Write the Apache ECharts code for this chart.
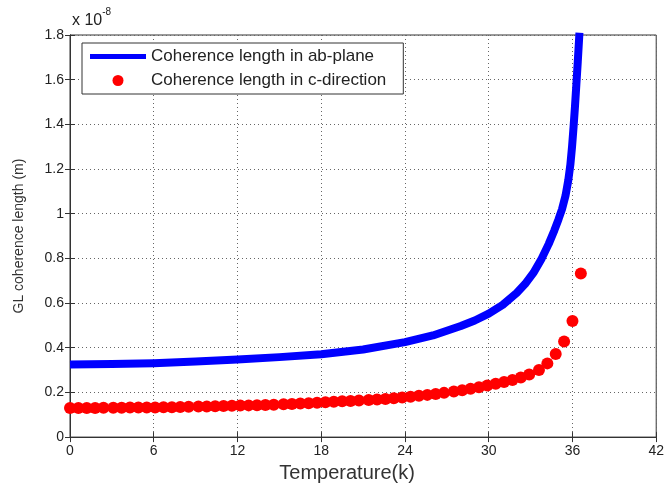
<!DOCTYPE html>
<html>
<head>
<meta charset="utf-8">
<script src="https://cdn.jsdelivr.net/npm/echarts@6/dist/echarts.min.js"></script>
<style>
  html, body { margin: 0; padding: 0; background: #fff; }
  #chart { width: 667px; height: 488px; }
</style>
</head>
<body>
<div id="chart"></div>
<script>
// coherence length in ab-plane (x 1e-8 m) vs temperature (K)
var abTemp = [0, 3, 6, 9, 12, 15, 18, 21, 24, 26, 28, 29, 30, 31, 32, 32.6, 33.2, 33.8, 34.3, 34.7, 35.0, 35.25, 35.5, 35.7, 35.85, 35.97, 36.08, 36.18, 36.28, 36.38, 36.5];
var abLength = [0.325, 0.327, 0.331, 0.338, 0.347, 0.358, 0.371, 0.392, 0.425, 0.455, 0.497, 0.522, 0.553, 0.592, 0.645, 0.685, 0.735, 0.8, 0.865, 0.925, 0.975, 1.02, 1.08, 1.15, 1.22, 1.3, 1.39, 1.48, 1.58, 1.68, 1.81];

// coherence length in c-direction
var cTemp = [0, 0.6, 1.2, 1.8, 2.4, 3.1, 3.7, 4.3, 4.9, 5.5, 6.1, 6.7, 7.3, 7.9, 8.5, 9.2, 9.8, 10.4, 11.0, 11.6,
  12.2, 12.8, 13.4, 14.0, 14.6, 15.3, 15.9, 16.5, 17.1, 17.7, 18.3, 18.9, 19.5, 20.1, 20.7, 21.4, 22.0, 22.6, 23.2, 23.8,
  24.4, 25.0, 25.6, 26.2, 26.8, 27.5, 28.1, 28.7, 29.3, 29.9, 30.5, 31.1, 31.7, 32.3, 32.9, 33.6, 34.2, 34.8, 35.4, 36.0, 36.6];
var cLength = [0.130, 0.130, 0.130, 0.130, 0.131, 0.131, 0.131, 0.132, 0.132, 0.133, 0.133, 0.134, 0.134, 0.135, 0.136, 0.137, 0.137, 0.138, 0.139, 0.140,
  0.141, 0.142, 0.143, 0.144, 0.145, 0.147, 0.148, 0.150, 0.152, 0.154, 0.156, 0.158, 0.160, 0.162, 0.164, 0.166, 0.168, 0.171, 0.174, 0.177,
  0.181, 0.185, 0.189, 0.193, 0.198, 0.204, 0.210, 0.216, 0.223, 0.231, 0.239, 0.247, 0.256, 0.267, 0.280, 0.300, 0.330, 0.372, 0.428, 0.520, 0.732];

var xTicks = { min: 0, max: 42, interval: 6 };
var yTicks = { min: 0, max: 1.8, interval: 0.2 };

var abName = 'Coherence length in ab-plane';
var cName = 'Coherence length in c-direction';

function pairs(xs, ys) {
	var out = [];
	for (var i = 0; i < xs.length; i++) out.push([xs[i], ys[i]]);
	return out;
}

var font = '"Liberation Sans", Arial, sans-serif';
var gridLine = { show: true, lineStyle: { color: '#666', type: [1, 3], width: 1 } };

var chart = echarts.init(document.getElementById('chart'));
chart.setOption({
	animation: false,
	textStyle: { fontFamily: font },
	grid: { left: 70, right: 6, top: 35, bottom: 50, show: true, borderColor: '#333', borderWidth: 1 },
	graphic: [{
		type: 'text',
		left: 72,
		top: 7,
		style: {
			text: '{b|x 10}{s|-8}',
			rich: {
				b: { fontSize: 16, fontFamily: font, fill: '#222', verticalAlign: 'bottom', padding: [6, 0, 0, 0] },
				s: { fontSize: 10, fontFamily: font, fill: '#222', verticalAlign: 'top' }
			}
		}
	}],
	legend: {
		left: 82,
		top: 43,
		orient: 'vertical',
		backgroundColor: '#fff',
		borderColor: '#333',
		borderWidth: 1,
		borderRadius: 0,
		padding: [5, 17, 5, 8],
		itemGap: 7,
		itemWidth: 56,
		itemHeight: 11,
		symbolKeepAspect: true,
		textStyle: { fontSize: 17, color: '#222', fontFamily: font },
		data: [
			{ name: abName, icon: 'path://M0,0L56,0L56,5L0,5Z' },
			{ name: cName, icon: 'circle' }
		]
	},
	xAxis: [{
		type: 'value',
		min: xTicks.min, max: xTicks.max, interval: xTicks.interval,
		name: 'Temperature(k)',
		nameLocation: 'middle',
		nameGap: 24,
		nameTextStyle: { fontSize: 20, color: '#333', padding: [0, 32, 0, 0] },
		axisLine: { show: true, lineStyle: { color: '#333' } },
		axisTick: { show: true, inside: true, length: 5, lineStyle: { color: '#333' } },
		axisLabel: { fontSize: 14, color: '#222', margin: 7 },
		splitLine: gridLine
	}, {
		type: 'value', position: 'top',
		min: xTicks.min, max: xTicks.max, interval: xTicks.interval,
		axisLine: { show: true, lineStyle: { color: '#333' } },
		axisTick: { show: true, inside: true, length: 5, lineStyle: { color: '#333' } },
		axisLabel: { show: false },
		splitLine: { show: false }
	}],
	yAxis: [{
		type: 'value',
		min: yTicks.min, max: yTicks.max, interval: yTicks.interval,
		name: 'GL coherence length (m)',
		nameLocation: 'middle',
		nameGap: 44,
		nameTextStyle: { fontSize: 14, color: '#333' },
		axisLine: { show: true, lineStyle: { color: '#333' } },
		axisTick: { show: true, inside: true, length: 5, lineStyle: { color: '#333' } },
		axisLabel: { fontSize: 14, color: '#222', margin: 6 },
		splitLine: gridLine
	}, {
		type: 'value', position: 'right',
		min: yTicks.min, max: yTicks.max, interval: yTicks.interval,
		axisLine: { show: true, lineStyle: { color: '#333' } },
		axisTick: { show: true, inside: true, length: 5, lineStyle: { color: '#333' } },
		axisLabel: { show: false },
		splitLine: { show: false }
	}],
	series: [{
		name: abName,
		type: 'line',
		data: pairs(abTemp, abLength),
		showSymbol: false,
		color: '#0000ff',
		lineStyle: { color: '#0000ff', width: 8, join: 'round' },
		z: 3
	}, {
		name: cName,
		type: 'scatter',
		data: pairs(cTemp, cLength),
		symbol: 'circle',
		symbolSize: 12,
		color: '#ff0000',
		itemStyle: { color: '#ff0000', opacity: 1 },
		z: 4
	}]
});
</script>
</body>
</html>
